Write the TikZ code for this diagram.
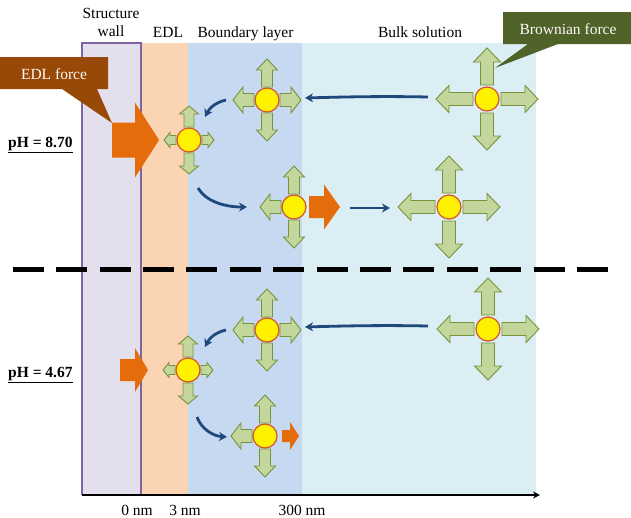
\documentclass[tikz,border=0pt]{standalone}
\usepackage{fontspec}
\setmainfont{Liberation Serif}
\usetikzlibrary{arrows.meta}
\definecolor{wallfill}{HTML}{E4DFEC}
\definecolor{wallline}{HTML}{8064A2}
\definecolor{edlfill}{HTML}{FBD4B4}
\definecolor{blfill}{HTML}{C6D9F1}
\definecolor{bulkfill}{HTML}{DAEEF3}
\definecolor{gfill}{HTML}{C3D69B}
\definecolor{gline}{HTML}{77933C}
\definecolor{orangeA}{HTML}{E46C0A}
\definecolor{blueA}{HTML}{1F497D}
\definecolor{edlcall}{HTML}{984807}
\definecolor{browncall}{HTML}{4F6228}
\definecolor{pborder}{HTML}{D2542A}
\tikzset{
  garrow/.style={fill=gfill,draw=gline,line width=0.9pt,line join=miter},
  ptcl/.style={circle,fill=yellow,draw=pborder,line width=1.2pt,minimum size=24pt,inner sep=0pt},
  bluearr/.style={draw=blueA,line width=2.8pt,-{Stealth[length=8pt,width=9pt]}},
  lbl/.style={font=\fontsize{15.5}{18}\selectfont,inner sep=0pt},
  calltext/.style={font=\fontsize{15.5}{18}\selectfont,text=white!90!pink,inner sep=0pt},
}
% green arm: cx, cy, angle, dist, len, shaft width, head width, head length
\newcommand{\garm}[8]{%
  \begin{scope}[shift={(#1,#2)},rotate=#3]
    \draw[garrow] (#4,-#6/2) -- (#4+#5-#8,-#6/2) -- (#4+#5-#8,-#7/2) -- (#4+#5,0)
      -- (#4+#5-#8,#7/2) -- (#4+#5-#8,#6/2) -- (#4,#6/2) -- cycle;
  \end{scope}}
% orange block arrow: x1, x2 (head start), x3 (tip), cy, body half, head half
\newcommand{\oarr}[6]{%
  \fill[orangeA] (#1,#4-#5) -- (#2,#4-#5) -- (#2,#4-#6) -- (#3,#4) -- (#2,#4+#6)
    -- (#2,#4+#5) -- (#1,#4+#5) -- cycle;}
\newcommand{\bigpart}[3]{%
  \garm{#2}{#3}{90}{14}{37}{13}{27}{14}
  \garm{#2}{#3}{270}{14}{37}{13}{27}{14}
  \garm{#2}{#3}{180}{14}{37}{13}{27}{13}
  \garm{#2}{#3}{0}{14}{37}{13}{27}{13}
  \node[ptcl] (#1) at (#2,#3) {};}
\newcommand{\medpart}[4]{% name, x, y, right arm (1/0)
  \garm{#2}{#3}{90}{13}{28}{11}{21}{11}
  \garm{#2}{#3}{270}{13}{28}{11}{21}{11}
  \garm{#2}{#3}{180}{13}{21}{13}{26}{10}
  \ifnum#4=1 \garm{#2}{#3}{0}{13}{21}{13}{26}{10}\fi
  \node[ptcl] (#1) at (#2,#3) {};}
\newcommand{\smallpart}[3]{%
  \garm{#2}{#3}{90}{13}{21}{10}{19}{8}
  \garm{#2}{#3}{270}{13}{21}{10}{19}{8}
  \garm{#2}{#3}{180}{13}{12}{9}{15}{6}
  \garm{#2}{#3}{0}{13}{12}{9}{15}{6}
  \node[ptcl] (#1) at (#2,#3) {};}
\begin{document}
\begin{tikzpicture}[x=1pt,y=-1pt]
\useasboundingbox (0,0) rectangle (631,517);
% regions
\fill[bulkfill] (302,43) rectangle (536,495);
\fill[blfill] (188,43) rectangle (302,495);
\fill[edlfill] (141,43) rectangle (188,495);
\filldraw[fill=wallfill,draw=wallline,line width=1.2pt] (82,495) -- (82,43) -- (141,43) -- (141,495);
% axis
\coordinate (ax0) at (82,495);
\coordinate (ax1) at (540,495);
\draw[line width=1.5pt,-{Stealth[length=7pt,width=7pt]}] (ax0) -- (ax1);
% headings
\node[lbl,align=center,anchor=south] (hwall) at (111,37) {Structure\\wall};
\node[lbl,anchor=base] (hedl) at (168,37) {EDL};
\node[lbl,anchor=base] (hbl) at (245.5,37) {Boundary layer};
\node[lbl,anchor=base] (hbulk) at (420,37) {Bulk solution};
% axis labels
\node[lbl,anchor=base] (l0) at (137,515) {0 nm};
\node[lbl,anchor=base] (l3) at (185,515) {3 nm};
\node[lbl,anchor=base] (l300) at (302,515) {300 nm};
% pH labels
\node[lbl,anchor=base west] (ph1) at (8,147) {\underline{\textbf{pH = 8.70}}};
\node[lbl,anchor=base west] (ph2) at (8,377) {\underline{\textbf{pH = 4.67}}};
% dashed separator
\coordinate (d0) at (12.7,269.5);
\coordinate (d1) at (610,269.5);
\draw[line width=4.5pt,dash pattern=on 31pt off 12.4pt] (d0) -- (d1);
% orange force arrows
\oarr{112}{135}{159}{140}{17.5}{37.5}
\oarr{120}{135}{148}{370}{11}{22}
\oarr{309}{324}{340}{207}{11}{22.5}
\oarr{282}{290}{299}{436}{6}{14}
% particles
\smallpart{p1}{189}{140}
\medpart{p2}{267}{100}{1}
\bigpart{p3}{487}{99}
\medpart{p4}{294}{207}{0}
\bigpart{p5}{449}{207}
\medpart{p6}{267}{330}{1}
\bigpart{p7}{488}{329}
\smallpart{p8}{188}{370}
\medpart{p9}{265}{436}{0}
% blue movement arrows
\coordinate (b1s) at (428,97);  \coordinate (b1e) at (305,98);
\coordinate (b2s) at (226,100); \coordinate (b2e) at (205,117);
\coordinate (b3s) at (198,188); \coordinate (b3e) at (247,207);
\coordinate (b4s) at (350,208); \coordinate (b4e) at (390,208);
\coordinate (b5s) at (428,326); \coordinate (b5e) at (305,327);
\coordinate (b6s) at (226,330); \coordinate (b6e) at (205,347);
\coordinate (b7s) at (197,417); \coordinate (b7e) at (227,437);
\draw[bluearr] (b1s) .. controls (380,96) and (340,97) .. (b1e);
\draw[bluearr] (b2s) .. controls (217,102) and (210,107) .. (b2e);
\draw[bluearr] (b3s) .. controls (205,200) and (222,207) .. (b3e);
\draw[bluearr] (b4s) -- (b4e);
\draw[bluearr] (b5s) .. controls (380,325) and (340,326) .. (b5e);
\draw[bluearr] (b6s) .. controls (217,332) and (210,337) .. (b6e);
\draw[bluearr] (b7s) .. controls (201,428) and (212,436) .. (b7e);
% callouts
\fill[edlcall] (0,57) -- (108,57) -- (108,89) -- (97,89) -- (112,123) -- (62,89) -- (0,89) -- cycle;
\node[calltext,anchor=base] (cedl) at (54,79) {EDL force};
\fill[browncall] (503,12) -- (631,12) -- (631,44) -- (558,44) -- (495,68) -- (528,44) -- (503,44) -- cycle;
\node[calltext,anchor=base] (cbrown) at (568,34) {Brownian force};
\end{tikzpicture}
\end{document}
